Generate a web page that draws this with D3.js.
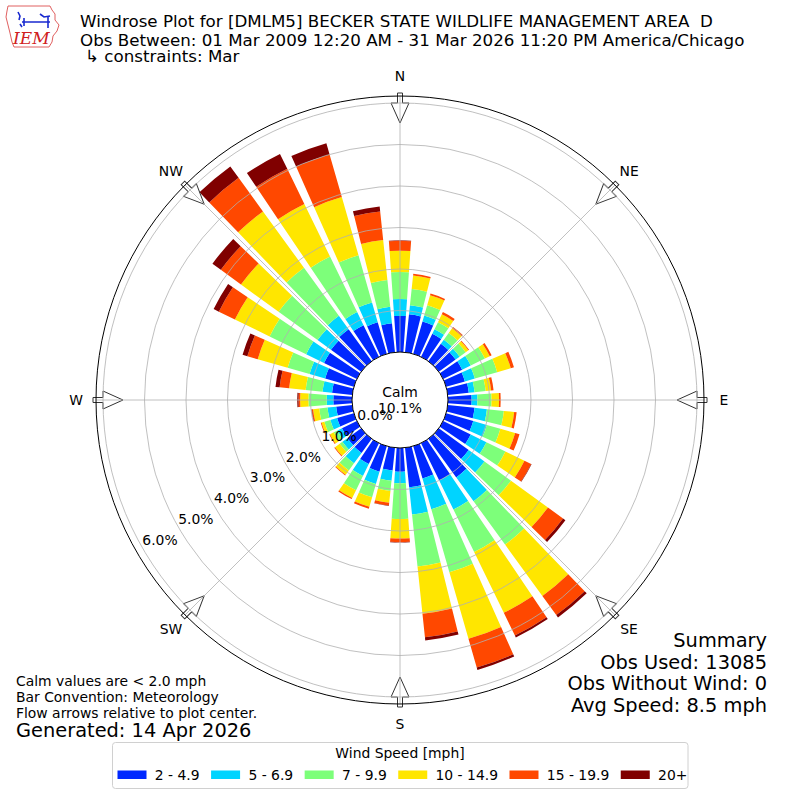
<!DOCTYPE html>
<html>
<head>
<meta charset="utf-8">
<title>Windrose</title>
<script src="https://d3js.org/d3.v7.min.js"></script>
<style>
  body { margin: 0; background: #fff; }
  text { font-family: "DejaVu Sans", sans-serif; fill: #000; }
  text.title { white-space: pre; }
</style>
</head>
<body>
<script>
// ---- data (percent of obs, per direction, per speed bin) ----
var directions = d3.range(0, 360, 10);
var speedBins = ["2 - 4.9", "5 - 6.9", "7 - 9.9", "10 - 14.9", "15 - 19.9", "20+"];
var binColors = ["#0028ff", "#00d4ff", "#7dff7a", "#ffe600", "#ff4800", "#800000"];

var speed2to5 = [.87,.92,.81,.62,.52,.50,.51,.47,.51,.57,.65,.68,.74,.89,1.15,1.00,.81,.96,
                 .57,.55,.64,.56,.42,.41,.40,.42,.39,.45,.49,.72,.88,.90,.95,.85,.79,.70];
var speed5to7 = [.41,.22,.15,.12,.12,.12,.23,.25,.14,.14,.30,.34,.42,.47,.71,.78,.77,.66,
                 .28,.25,.31,.32,.31,.15,.12,.17,.21,.16,.23,.39,.48,.40,.40,.35,.50,.40];
var speed7to10 = [.65,.39,.26,.19,.20,.18,.38,.56,.27,.34,.41,.34,.51,.79,1.29,1.14,1.58,1.26,
                  .86,.25,.33,.38,.21,.08,.10,.15,.20,.44,.41,.55,.98,1.16,1.43,1.49,1.18,.65];
var speed10to15 = [.51,.33,.25,.21,.14,.08,.13,.34,.13,.18,.25,.37,.51,1.10,1.53,1.63,1.67,1.14,
                   .47,.28,.24,.21,.13,.14,.10,.07,.15,.20,.40,.75,.93,1.12,1.68,1.41,1.46,.97];
var speed15to20 = [.24,.04,.04,.06,.04,.02,.05,.08,.06,.04,.06,.11,.18,.45,.57,.61,.72,.57,
                   .09,.07,.05,.03,.02,.02,.02,.02,.03,.04,.23,.26,.43,.60,1.00,.94,1.07,.69];
var speed20plus = [.01,0,0,0,0,0,0,0,0,0,0,0,.01,.07,.07,.05,.06,.08,
                   .01,.01,0,0,0,0,0,0,.01,.03,.10,.12,.14,.25,.34,.40,.28,.12];

var ringTicks = [0, 1, 2, 3, 4, 5, 6];
var compassNames = ["N", "NE", "E", "SE", "S", "SW", "W", "NW"];
var calmPct = 10.1;

var titleLines = [
  "Windrose Plot for [DMLM5] BECKER STATE WILDLIFE MANAGEMENT AREA  D",
  "Obs Between: 01 Mar 2009 12:20 AM - 31 Mar 2026 11:20 PM America/Chicago",
  "\u21b3 constraints: Mar"
];
var summaryLines = ["Summary", "Obs Used: 13085", "Obs Without Wind: 0", "Avg Speed: 8.5 mph"];
var noteLines = ["Calm values are < 2.0 mph", "Bar Convention: Meteorology",
                 "Flow arrows relative to plot center."];
var generatedText = "Generated: 14 Apr 2026";

// ---- build table ----
var series = [speed2to5, speed5to7, speed7to10, speed10to15, speed15to20, speed20plus];
var table = directions.map(function(dir, i) {
  var row = {dir: dir};
  speedBins.forEach(function(b, j) { row[b] = series[j][i]; });
  return row;
});
var stacked = d3.stack().keys(speedBins)(table);

// ---- svg ----
var W = 800, H = 800, cx = 400, cy = 400, outerR = 304;
var svg = d3.select("body").append("svg").attr("width", W).attr("height", H);

var r = d3.scaleLinear().domain([0, 6]).range([48, 297]);
var rad = function(deg) { return deg * Math.PI / 180; };
var barHalf = 4;

var plot = svg.append("g").attr("transform", "translate(" + cx + "," + cy + ")");

var arc = d3.arc()
  .innerRadius(function(d) { return r(d[0]); })
  .outerRadius(function(d) { return r(d[1]); })
  .startAngle(function(d) { return rad(d.data.dir - barHalf); })
  .endAngle(function(d) { return rad(d.data.dir + barHalf); });

plot.selectAll("g.layer")
  .data(stacked)
  .enter().append("g")
  .attr("class", "layer")
  .attr("fill", function(d, i) { return binColors[i]; })
  .selectAll("path")
  .data(function(d) { return d.filter(function(s) { return s[1] - s[0] > 0; }); })
  .enter().append("path")
  .attr("d", arc);

// flow arrows (pointing to center)
var compassAngles = d3.range(0, 360, 45);
var arrowPts = [[-2.5, -307], [-2.5, -297], [-9, -297], [0, -277], [9, -297], [2.5, -297], [2.5, -307]];
plot.selectAll("polygon.arrow")
  .data(compassAngles)
  .enter().append("polygon")
  .attr("class", "arrow")
  .attr("points", arrowPts.map(function(p) { return p.join(","); }).join(" "))
  .attr("transform", function(a) { return "rotate(" + a + ")"; })
  .attr("fill", "#fff")
  .attr("stroke", "#333")
  .attr("stroke-width", 1);

// grid
plot.selectAll("circle.ring")
  .data(ringTicks.filter(function(t) { return t > 0; }))
  .enter().append("circle")
  .attr("class", "ring")
  .attr("r", function(t) { return r(t); })
  .attr("fill", "none")
  .attr("stroke", "#b0b0b0")
  .attr("stroke-width", 0.8);

plot.selectAll("line.spoke")
  .data(compassAngles)
  .enter().append("line")
  .attr("class", "spoke")
  .attr("x1", function(a) { return r(0) * Math.sin(rad(a)); })
  .attr("y1", function(a) { return -r(0) * Math.cos(rad(a)); })
  .attr("x2", function(a) { return outerR * Math.sin(rad(a)); })
  .attr("y2", function(a) { return -outerR * Math.cos(rad(a)); })
  .attr("stroke", "#b0b0b0")
  .attr("stroke-width", 0.8);

plot.append("circle").attr("r", outerR)
  .attr("fill", "none").attr("stroke", "#000").attr("stroke-width", 1);

// calm hole
plot.append("circle").attr("r", r(0))
  .attr("fill", "#fff").attr("stroke", "#000").attr("stroke-width", 1);
plot.append("text").attr("x", 0).attr("y", -3.5).attr("text-anchor", "middle")
  .style("font-size", "13.9px").text("Calm");
plot.append("text").attr("x", 0).attr("y", 12.5).attr("text-anchor", "middle")
  .style("font-size", "13.9px").text(calmPct.toFixed(1) + "%");

// ring labels
var labAng = rad(239.7);
plot.selectAll("text.rlab")
  .data(ringTicks)
  .enter().append("text")
  .attr("class", "rlab")
  .attr("x", function(t) { return (r(t) - 19) * Math.sin(labAng); })
  .attr("y", function(t) { return -(r(t) - 19) * Math.cos(labAng); })
  .attr("dy", "0.36em")
  .attr("text-anchor", "middle")
  .style("font-size", "13.9px")
  .text(function(t) { return t.toFixed(1) + "%"; });

// compass labels
plot.selectAll("text.clab")
  .data(compassAngles)
  .enter().append("text")
  .attr("class", "clab")
  .attr("x", function(a) { return 324 * Math.sin(rad(a)); })
  .attr("y", function(a) { return -324 * Math.cos(rad(a)); })
  .attr("dy", "0.36em")
  .attr("text-anchor", "middle")
  .style("font-size", "13.9px")
  .text(function(a, i) { return compassNames[i]; });

// ---- titles ----
var titleY = [26.5, 45.5, 61.5];
svg.selectAll("text.title")
  .data(titleLines)
  .enter().append("text")
  .attr("class", "title")
  .attr("x", function(d, i) { return i === 2 ? 85 : 80; })
  .attr("y", function(d, i) { return titleY[i]; })
  .style("font-size", "16.7px")
  .text(function(d) { return d; });

// logo
var logo = svg.append("g");
logo.append("path")
  .attr("d", "M8,6 L50,6 L52,10 L55,14 L55,20 L59,25 L57,31 L53,36 L52,42 L49,47 L14,47 L12,42 L10,33 L8,25 L6,17 L7,11 Z")
  .attr("fill", "none").attr("stroke", "#e06060").attr("stroke-width", 1);
logo.append("path")
  .attr("d", "M18,12 L20,16 L19,20 M22,22 L50,22 M24,18 L24,26 M48,17 L48,28 M40,14 L44,17 L50,16 M20,24 L22,27")
  .attr("fill", "none").attr("stroke", "#1a2ad0").attr("stroke-width", 1.6);
logo.append("text").attr("x", 13).attr("y", 44)
  .style("font-family", "'DejaVu Serif', serif").style("font-style", "italic")
  .style("font-size", "17px").style("fill", "#d02020").text("IEM");

// ---- notes ----
svg.selectAll("text.note")
  .data(noteLines)
  .enter().append("text")
  .attr("class", "note")
  .attr("x", 16)
  .attr("y", function(d, i) { return 685.5 + i * 16; })
  .style("font-size", "13.9px")
  .text(function(d) { return d; });
svg.append("text").attr("x", 16).attr("y", 737)
  .style("font-size", "19.4px").text(generatedText);

svg.selectAll("text.summary")
  .data(summaryLines)
  .enter().append("text")
  .attr("class", "summary")
  .attr("x", 767)
  .attr("y", function(d, i) { return 647 + i * 21.7; })
  .attr("text-anchor", "end")
  .style("font-size", "19.4px")
  .text(function(d) { return d; });

// ---- legend ----
var leg = svg.append("g");
leg.append("rect")
  .attr("x", 112.5).attr("y", 742.5).attr("width", 575.5).attr("height", 46)
  .attr("rx", 3).attr("fill", "#fff").attr("stroke", "#d0d0d0").attr("stroke-width", 1);
leg.append("text").attr("x", 400).attr("y", 758).attr("text-anchor", "middle")
  .style("font-size", "13.9px").text("Wind Speed [mph]");
var lx = 117.5;
speedBins.forEach(function(b, i) {
  leg.append("rect").attr("x", lx).attr("y", 770.5).attr("width", 29).attr("height", 8.5)
    .attr("fill", binColors[i]);
  var t = leg.append("text").attr("x", lx + 37.3).attr("y", 779.5)
    .style("font-size", "13.9px").text(b);
  lx = lx + 37.3 + t.node().getComputedTextLength() + 11.5;
});
</script>
</body>
</html>
